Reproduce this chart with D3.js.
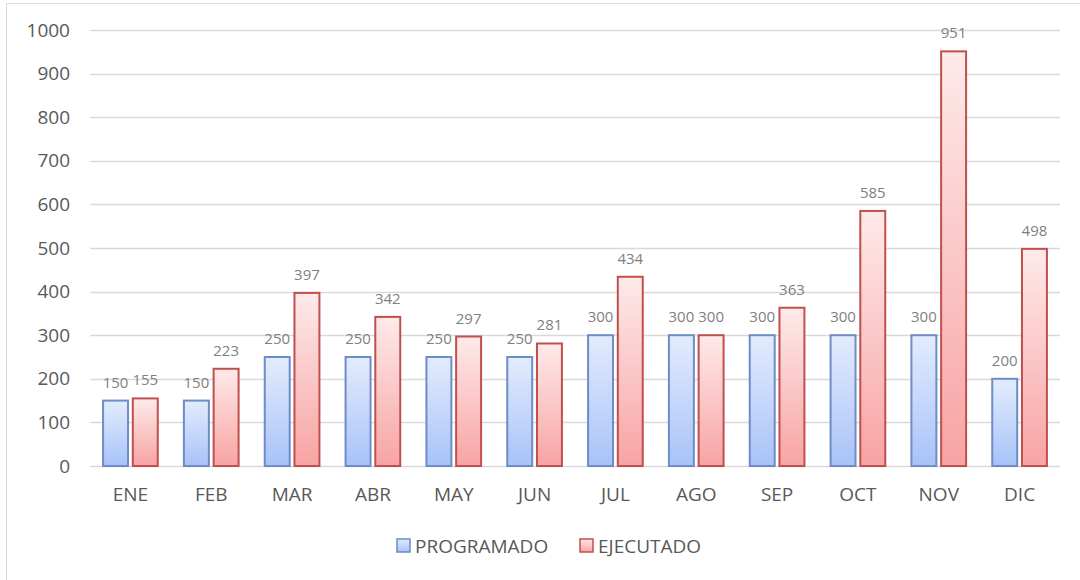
<!DOCTYPE html>
<html>
<head>
<meta charset="utf-8">
<script src="https://cdn.jsdelivr.net/npm/d3@7"></script>
<style>
  body { margin: 0; background: #fff; }
</style>
</head>
<body>
<script>
const months = ["ENE", "FEB", "MAR", "ABR", "MAY", "JUN", "JUL", "AGO", "SEP", "OCT", "NOV", "DIC"];
const programado = [150, 150, 250, 250, 250, 250, 300, 300, 300, 300, 300, 200];
const ejecutado = [155, 223, 397, 342, 297, 281, 434, 300, 363, 585, 951, 498];
const seriesNames = ["PROGRAMADO", "EJECUTADO"];
const yTicks = [0, 100, 200, 300, 400, 500, 600, 700, 800, 900, 1000];

const W = 1080, H = 580;
const svg = d3.select("body").append("svg")
  .attr("width", W)
  .attr("height", H);

// gradients for the bars
const defs = svg.append("defs");
const grads = [
  { id: "gBlue", top: "#e3ecfd", bottom: "#a8c2f8" },
  { id: "gRed", top: "#feeaea", bottom: "#f8a3a3" }
];
grads.forEach(g => {
  const lg = defs.append("linearGradient")
    .attr("id", g.id)
    .attr("x1", 0).attr("y1", 0).attr("x2", 0).attr("y2", 1);
  lg.append("stop").attr("offset", "0%").attr("stop-color", g.top);
  lg.append("stop").attr("offset", "100%").attr("stop-color", g.bottom);
});
const fills = ["url(#gBlue)", "url(#gRed)"];
const strokes = ["#6d8cc8", "#c0504d"];

// outer frame
svg.append("rect")
  .attr("x", 6.5).attr("y", 3.5)
  .attr("width", W).attr("height", H)
  .attr("fill", "none")
  .attr("stroke", "#d9d9d9");

const x = d3.scaleBand()
  .domain(months)
  .range([90, 1060]);

const y = d3.scaleLinear()
  .domain([0, 1000])
  .range([466, 30]);

const x1 = d3.scaleBand()
  .domain(seriesNames)
  .range([0, x.bandwidth()])
  .paddingInner(0.16)
  .paddingOuter(0.44);

// gridlines
svg.append("g")
  .selectAll("line")
  .data(yTicks)
  .enter().append("line")
  .attr("x1", 90).attr("x2", 1060)
  .attr("y1", d => Math.round(y(d)) + 0.5)
  .attr("y2", d => Math.round(y(d)) + 0.5)
  .attr("stroke", "#d9d9d9")
  .attr("stroke-width", 1.5);

// y axis labels
const yAxis = svg.append("g")
  .attr("transform", "translate(70,0)")
  .call(d3.axisLeft(y).tickValues(yTicks).tickFormat(d3.format("d")).tickSize(0).tickPadding(0));
yAxis.select(".domain").remove();
yAxis.selectAll("text")
  .attr("font-family", "'Open Sans', sans-serif")
  .attr("font-size", "19px")
  .attr("fill", "#595959");

// x axis labels
const xAxis = svg.append("g")
  .attr("transform", "translate(0,487)")
  .call(d3.axisBottom(x).tickSize(0).tickPadding(0));
xAxis.select(".domain").remove();
xAxis.selectAll("text")
  .attr("font-family", "'Open Sans', sans-serif")
  .attr("font-size", "19px")
  .attr("fill", "#595959");

const rows = months.map((m, i) => ({ month: m, vals: [programado[i], ejecutado[i]] }));

const groups = svg.selectAll(".grp")
  .data(rows)
  .enter().append("g")
  .attr("class", "grp")
  .attr("transform", d => "translate(" + x(d.month) + ",0)");

groups.selectAll("rect")
  .data(d => d.vals.map((v, k) => ({ key: seriesNames[k], k: k, v: v })))
  .enter().append("rect")
  .attr("x", d => x1(d.key))
  .attr("y", d => y(d.v))
  .attr("width", x1.bandwidth())
  .attr("height", d => y(0) - y(d.v))
  .attr("fill", d => fills[d.k])
  .attr("stroke", d => strokes[d.k])
  .attr("stroke-width", 2);

groups.selectAll("text")
  .data(d => d.vals.map((v, k) => ({ key: seriesNames[k], k: k, v: v })))
  .enter().append("text")
  .attr("x", d => x1(d.key) + x1.bandwidth() / 2)
  .attr("y", d => y(d.v) - 13)
  .attr("text-anchor", "middle")
  .attr("font-family", "'Open Sans', sans-serif")
  .attr("font-size", "15px")
  .attr("fill", "#7f7f7f")
  .text(d => d.v);

// legend
const legend = svg.append("g");
const legX = [397, 580];
seriesNames.forEach((name, k) => {
  legend.append("rect")
    .attr("x", legX[k]).attr("y", 539)
    .attr("width", 13).attr("height", 13)
    .attr("fill", fills[k])
    .attr("stroke", strokes[k])
    .attr("stroke-width", 1.5);
  legend.append("text")
    .attr("x", legX[k] + 18)
    .attr("y", 553)
    .attr("font-family", "'Open Sans', sans-serif")
    .attr("font-size", "19px")
    .attr("fill", "#595959")
    .text(name);
});
</script>
</body>
</html>
